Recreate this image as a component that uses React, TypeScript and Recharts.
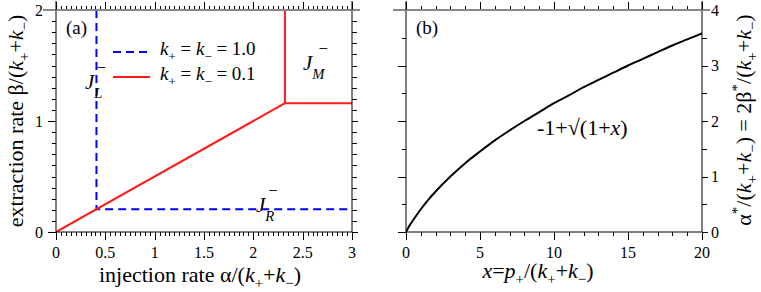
import React from 'react'
import { Legend, Line, LineChart, XAxis, YAxis } from 'recharts'

const FONT = '"Liberation Serif", "DejaVu Serif", serif'

// panel (a): phase diagram
const alphaTicks = [0, 0.5, 1, 1.5, 2, 2.5, 3]
const alphaTickLabels = ['0', '0.5', '1', '1.5', '2', '2.5', '3']
const betaTicks = [0, 1, 2]
const betaTickLabels = ['0', '1', '2']

const blueAlpha = [0.41, 0.41, 3]
const blueBeta = [2, 0.205, 0.205]
const redAlpha = [0, 2.32, 2.32]
const redBeta = [0, 1.16, 2]
const redFlatAlpha = [2.32, 3]
const redFlatBeta = [1.16, 1.16]

// panel (b): critical point vs p+
const pTicks = [0, 5, 10, 15, 20]
const pTickLabels = ['0', '5', '10', '15', '20']
const starTicks = [0, 1, 2, 3, 4]
const starTickLabels = ['0', '1', '2', '3', '4']

const pValues = [0, 0.25, 0.5, 1, 1.5, 2, 3, 4, 5, 6, 7, 8, 9, 10, 11, 12, 13, 14, 15, 16, 17, 18, 19, 20]
const starValues = [0, 0.12, 0.22, 0.41, 0.58, 0.73, 1.0, 1.24, 1.45, 1.65, 1.83, 2.0, 2.16, 2.32, 2.46, 2.61, 2.74, 2.87, 3.0, 3.12, 3.24, 3.36, 3.47, 3.58]

const legendItems = [
  { label: '1.0', color: '#0000ff', dash: '8 5' },
  { label: '0.1', color: '#ff1a1a', dash: undefined },
]

function toPoints(xs: number[], ys: number[]) {
  return xs.map((x, i) => ({ x, y: ys[i] }))
}

function steps(from: number, to: number, step: number) {
  const out: number[] = []
  const n = Math.round((to - from) / step)
  for (let i = 0; i <= n; i++) out.push(+(from + i * step).toFixed(4))
  return out
}

function labelFor(values: number[], labels: string[]) {
  return (v: number) => {
    const i = values.findIndex((m) => Math.abs(m - v) < 1e-6)
    return i >= 0 ? labels[i] : ''
  }
}

const isMajor = (majors: number[], v: number) => majors.some((m) => Math.abs(m - v) < 1e-6)

// plot boxes, in page pixels, matching the chart margins and axis sizes below
type Box = {
  left: number; right: number; top: number; bottom: number
  xDomain: [number, number]; yDomain: [number, number]
  xMinor: number[]; yMinor: number[]; xMajor: number[]; yMajor: number[]
}

function TickFrame({ b }: { b: Box }) {
  const sx = (v: number) => b.left + ((v - b.xDomain[0]) / (b.xDomain[1] - b.xDomain[0])) * (b.right - b.left)
  const sy = (v: number) => b.bottom - ((v - b.yDomain[0]) / (b.yDomain[1] - b.yDomain[0])) * (b.bottom - b.top)
  const lines: React.ReactNode[] = []
  b.xMinor.forEach((v) => {
    const len = isMajor(b.xMajor, v) ? 8 : 4
    const x = Math.round(sx(v)) + 0.5
    lines.push(<line key={'b' + v} x1={x} x2={x} y1={b.bottom} y2={b.bottom + len} />)
    lines.push(<line key={'t' + v} x1={x} x2={x} y1={b.top} y2={b.top - len} />)
  })
  b.yMinor.forEach((v) => {
    const major = isMajor(b.yMajor, v)
    const y = Math.round(sy(v)) + 0.5
    lines.push(<line key={'l' + v} x1={b.left} x2={b.left - (major ? 8 : 4)} y1={y} y2={y} />)
    lines.push(<line key={'r' + v} x1={b.right} x2={b.right + (major ? 6 : 5)} y1={y} y2={y} />)
  })
  return (
    <g stroke="#000" strokeWidth={1}>
      {lines}
      <line x1={b.left - 13} x2={b.right + 8} y1={b.top} y2={b.top} stroke="#888" strokeWidth={2} />
      <line x1={b.right} x2={b.right} y1={b.top - 9} y2={b.top} />
      <line x1={b.left} x2={b.left} y1={b.top - 9} y2={b.top} />
    </g>
  )
}

const boxA: Box = {
  left: 56, right: 352, top: 10, bottom: 232,
  xDomain: [0, 3], yDomain: [0, 2],
  xMinor: steps(0, 3, 0.05), yMinor: steps(0, 2, 0.1), xMajor: alphaTicks, yMajor: betaTicks,
}
const boxB: Box = {
  left: 406, right: 702, top: 10, bottom: 232,
  xDomain: [0, 20], yDomain: [0, 4],
  xMinor: steps(0, 20, 1), yMinor: steps(0, 4, 0.5), xMajor: pTicks, yMajor: starTicks,
}

const tickText = { fontSize: 16, fill: '#000', fontFamily: FONT }
const axisBase = { type: 'number' as const, allowDataOverflow: true, interval: 0, tickLine: false }

// k with a subscript, then the rest of the text put back on the baseline
function KSub({ sub, after }: { sub: string; after: string }) {
  return (
    <>
      <tspan fontStyle="italic">k</tspan>
      <tspan fontSize="0.68em" dy={6}>{sub}</tspan>
      <tspan dy={-6}>{after}</tspan>
    </>
  )
}

function Ratio() {
  return (
    <>
      <tspan>/(</tspan>
      <KSub sub="+" after="+" />
      <KSub sub="−" after=")" />
    </>
  )
}

function LegendBox() {
  return (
    <svg width={170} height={52} style={{ overflow: 'visible' }}>
      {legendItems.map((item, i) => (
        <g key={item.label}>
          <line x1={5} x2={42} y1={12 + i * 25} y2={12 + i * 25} stroke={item.color} strokeWidth={2} strokeDasharray={item.dash} />
          <text x={52} y={15 + i * 25} fontSize={19} style={{ fontFamily: FONT }} fill="#000">
            <KSub sub="+" after=" = " />
            <KSub sub="−" after={' = ' + item.label} />
          </text>
        </g>
      ))}
    </svg>
  )
}

function PhaseLabel({ x, y, sub }: { x: number; y: number; sub: string }) {
  return (
    <text x={x} y={y} fontSize={21} fill="#000">
      <tspan fontStyle="italic">J</tspan>
      <tspan fontSize="0.7em" fontStyle="italic" dy={9}>{sub}</tspan>
      <tspan fontSize="0.8em" dx={-6} dy={-25}>−</tspan>
    </text>
  )
}

function PanelA() {
  return (
    <LineChart width={380} height={292} margin={{ top: 0, right: 8, bottom: 20, left: 20 }}>
      <XAxis xAxisId="b" {...axisBase} dataKey="x" domain={[0, 3]} ticks={alphaTicks} orientation="bottom" height={40}
        stroke="#000" tickSize={8} tickMargin={7} tick={tickText} tickFormatter={labelFor(alphaTicks, alphaTickLabels)} />
      <YAxis yAxisId="l" {...axisBase} domain={[0, 2]} ticks={betaTicks} orientation="left" width={36}
        stroke="#000" tickSize={8} tickMargin={5} tick={tickText} tickFormatter={labelFor(betaTicks, betaTickLabels)} />
      <YAxis yAxisId="r" {...axisBase} domain={[0, 2]} ticks={betaTicks} orientation="right" width={20}
        stroke="#000" tick={false} />
      <XAxis xAxisId="t" {...axisBase} dataKey="x" domain={[0, 3]} ticks={alphaTicks} orientation="top" height={10}
        stroke="#888" strokeWidth={2} tick={false} />
      <Legend layout="horizontal" verticalAlign="middle" align="center" content={() => <LegendBox />}
        wrapperStyle={{ left: 108, top: 40, width: 170, height: 52 }} />
      <Line xAxisId="b" yAxisId="l" data={toPoints(blueAlpha, blueBeta)} dataKey="y" name="k=1.0" type="linear"
        stroke="#0000ff" strokeWidth={2} strokeDasharray="8 5" dot={false} isAnimationActive={false} />
      <Line xAxisId="b" yAxisId="l" data={toPoints(redAlpha, redBeta)} dataKey="y" name="k=0.1" type="linear"
        stroke="#ff1a1a" strokeWidth={2} dot={false} isAnimationActive={false} />
      <Line xAxisId="b" yAxisId="l" data={toPoints(redFlatAlpha, redFlatBeta)} dataKey="y" name="k=0.1 flat" type="linear"
        stroke="#ff1a1a" strokeWidth={2} dot={false} legendType="none" isAnimationActive={false} />
      <Line xAxisId="t" yAxisId="r" data={toPoints(redFlatAlpha, redFlatBeta)} dataKey="y" stroke="transparent"
        dot={false} legendType="none" isAnimationActive={false} />
    </LineChart>
  )
}

function PanelB() {
  return (
    <LineChart width={381} height={292} margin={{ top: 0, right: 14, bottom: 20, left: 10 }}>
      <XAxis xAxisId="b" {...axisBase} dataKey="x" domain={[0, 20]} ticks={pTicks} orientation="bottom" height={40}
        stroke="#000" tickSize={8} tickMargin={7} tick={tickText} tickFormatter={labelFor(pTicks, pTickLabels)} />
      <YAxis yAxisId="l" {...axisBase} domain={[0, 4]} ticks={starTicks} orientation="left" width={16}
        stroke="#000" tick={false} />
      <YAxis yAxisId="r" {...axisBase} domain={[0, 4]} ticks={starTicks} orientation="right" width={45}
        stroke="#000" tickSize={6} tickMargin={3} tick={tickText} tickFormatter={labelFor(starTicks, starTickLabels)} />
      <XAxis xAxisId="t" {...axisBase} dataKey="x" domain={[0, 20]} ticks={pTicks} orientation="top" height={10}
        stroke="#888" strokeWidth={2} tick={false} />
      <Line xAxisId="b" yAxisId="l" data={toPoints(pValues, starValues)} dataKey="y" type="monotone"
        stroke="#000" strokeWidth={2} dot={false} isAnimationActive={false} />
      <Line xAxisId="t" yAxisId="r" data={toPoints(pValues, starValues)} dataKey="y" stroke="transparent"
        dot={false} legendType="none" isAnimationActive={false} />
    </LineChart>
  )
}

const layer = { position: 'absolute' as const, left: 0, top: 0 }

export default function App() {
  return (
    <div style={{ position: 'absolute', left: 0, top: 0, width: 761, height: 292, background: '#fff', fontFamily: FONT }}>
      <div style={layer}><PanelA /></div>
      <div style={{ ...layer, left: 380 }}><PanelB /></div>
      <svg width={761} height={292} style={{ position: 'absolute', left: 0, top: 0, pointerEvents: 'none', fontFamily: FONT }}>
        <TickFrame b={boxA} />
        <TickFrame b={boxB} />
        <g fill="#000">
          <text x={66} y={34} fontSize={19}>(a)</text>
          <text x={416} y={34} fontSize={19}>(b)</text>
          <PhaseLabel x={85} y={89} sub="L" />
          <PhaseLabel x={303} y={70} sub="M" />
          <PhaseLabel x={256} y={212} sub="R" />
          <text x={537} y={135} fontSize={22}>
            <tspan>-1+√(1+</tspan>
            <tspan fontStyle="italic">x</tspan>
            <tspan>)</tspan>
          </text>
          <text x={200} y={282} fontSize={22} textAnchor="middle">
            <tspan>injection rate  α</tspan>
            <Ratio />
          </text>
          <text transform="rotate(-90)" x={-121} y={23} fontSize={22} textAnchor="middle">
            <tspan>extraction rate β</tspan>
            <Ratio />
          </text>
          <text x={538} y={278} fontSize={22} textAnchor="middle">
            <tspan fontStyle="italic">x</tspan>
            <tspan>=</tspan>
            <tspan fontStyle="italic">p</tspan>
            <tspan fontSize="0.68em" dy={6}>+</tspan>
            <tspan dy={-6}>/(</tspan>
            <KSub sub="+" after="+" />
            <KSub sub="−" after=")" />
          </text>
          <text transform="rotate(-90)" x={-120} y={751} fontSize={22} textAnchor="middle">
            <tspan>α</tspan>
            <tspan fontSize="0.68em" dy={-9}>*</tspan>
            <tspan dy={9}>/(</tspan>
            <KSub sub="+" after="+" />
            <KSub sub="−" after=") = 2β" />
            <tspan fontSize="0.68em" dy={-9}>*</tspan>
            <tspan dy={9}>/(</tspan>
            <KSub sub="+" after="+" />
            <KSub sub="−" after=")" />
          </text>
        </g>
      </svg>
    </div>
  )
}
